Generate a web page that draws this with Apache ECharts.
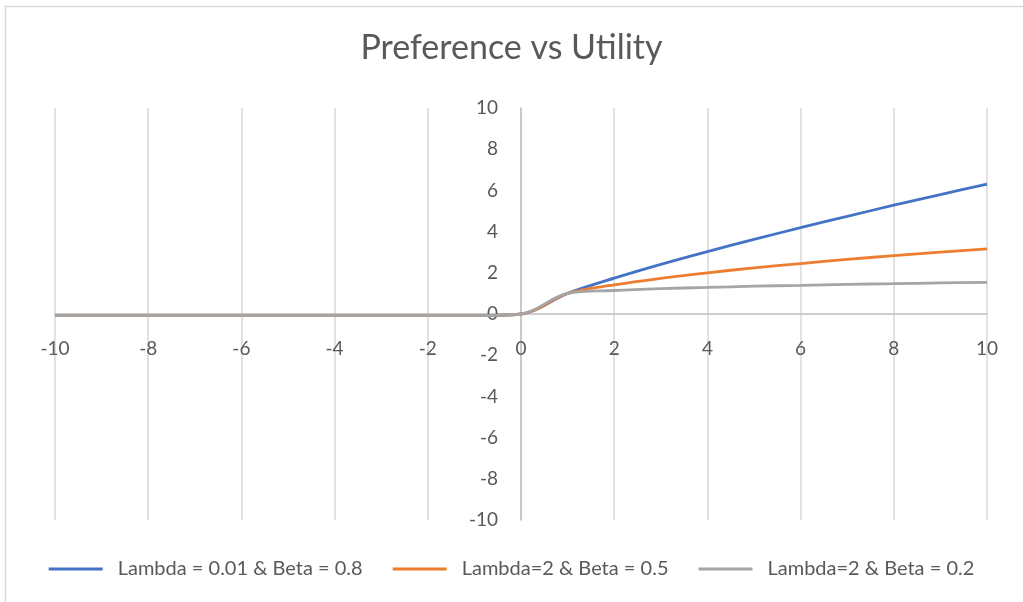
<!DOCTYPE html>
<html>
<head>
<meta charset="utf-8">
<script src="https://cdn.jsdelivr.net/npm/echarts@6/dist/echarts.min.js"></script>
<style>
html,body{margin:0;padding:0;background:#fff;}
#chart{width:1023px;height:602px;}
</style>
</head>
<body>
<div id="chart"></div>
<script>
const xValues = [-10,-9,-8,-7,-6,-5,-4,-3,-2,-1,0,1,2,3,4,5,6,7,8,9,10];
const seriesNames = ['Lambda = 0.01 & Beta = 0.8','Lambda=2 & Beta = 0.5','Lambda=2 & Beta = 0.2'];
const blueValues   = [-0.08,-0.08,-0.08,-0.08,-0.08,-0.08,-0.08,-0.08,-0.08,-0.08,0,1,1.74,2.41,3.03,3.62,4.19,4.74,5.28,5.80,6.31];
const orangeValues = [-0.08,-0.08,-0.08,-0.08,-0.08,-0.08,-0.08,-0.08,-0.08,-0.08,0,1,1.41,1.73,2.00,2.24,2.45,2.65,2.83,3.00,3.16];
const grayValues   = [-0.08,-0.08,-0.08,-0.08,-0.08,-0.08,-0.08,-0.08,-0.08,-0.08,0,1,1.14,1.23,1.29,1.35,1.39,1.44,1.47,1.51,1.54];
const colors = ['#4472C4','#ED7D31','#A5A5A5'];

function pairs(vals){ return xValues.map((x,i)=>[x, vals[i]]); }
const allVals = [blueValues, orangeValues, grayValues];
const font = 'Lato, "Open Sans", sans-serif';

const W = 1023, H = 602, GL = 55, GR = 36, GT = 108, GB = 82;
const plotW = W - GL - GR, plotH = H - GT - GB;
// axes cross at zero: shift the axes from the grid edge to the zero position
const yOffset = -plotW * (0 - (-10)) / 20;
const xOffset = -plotH * (0 - (-10)) / 20;

const chart = echarts.init(document.getElementById('chart'), null, {renderer:'canvas'});
chart.setOption({
  animation:false,
  backgroundColor:'#fff',
  color: colors,
  graphic:[{type:'rect', shape:{x:5.5,y:6.5,width:1040,height:620}, style:{fill:'none',stroke:'#d9d9d9',lineWidth:1.5}, silent:true, z:-1}],
  title:{text:'Preference vs Utility', left:'center', top:26,
    textStyle:{fontFamily:font, fontSize:34, fontWeight:'normal', color:'#595959'}},
  grid:{left:GL, right:GR, top:GT, bottom:GB},
  legend:{
    top:554, left:'center', itemWidth:54, itemHeight:3, itemGap:30, icon:'rect',
    textStyle:{fontFamily:font, fontSize:20, color:'#595959', padding:[0,0,0,10]},
    data: seriesNames
  },
  xAxis:{type:'value', min:-10, max:10, interval:2, position:'bottom', offset:xOffset,
    axisLine:{show:true, onZero:false, lineStyle:{color:'#bfbfbf', width:1.5}},
    axisTick:{show:false},
    axisLabel:{fontFamily:font, fontSize:19, color:'#595959', margin:25},
    splitLine:{show:true, lineStyle:{color:'#d9d9d9', width:1.5}}
  },
  yAxis:{type:'value', min:-10, max:10, interval:2, position:'left', offset:yOffset,
    axisLine:{show:true, onZero:false, lineStyle:{color:'#bfbfbf', width:1.5}},
    axisTick:{show:false},
    axisLabel:{fontFamily:font, fontSize:19, color:'#595959', margin:23},
    splitLine:{show:false}
  },
  series: seriesNames.map((n,i)=>({
    name:n, type:'line', data:pairs(allVals[i]), smooth:0.35,
    showSymbol:false, symbol:'none',
    lineStyle:{width:2.8, color:colors[i]}, itemStyle:{color:colors[i]}
  }))
});
</script>
</body>
</html>
